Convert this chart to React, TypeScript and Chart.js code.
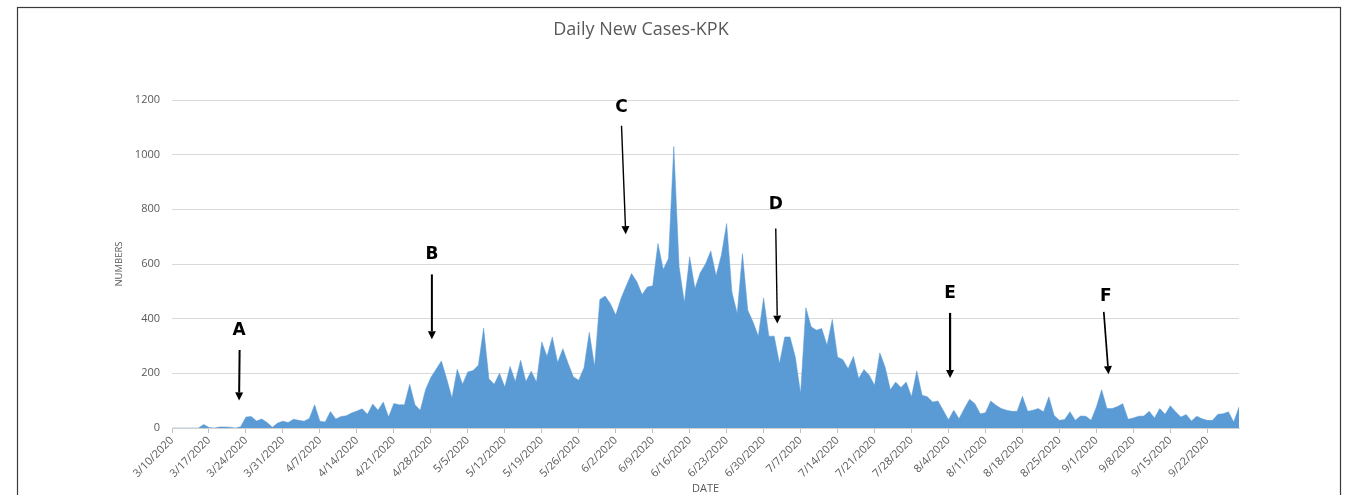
import React, { useEffect, useRef } from 'react';
import { Chart, registerables } from 'chart.js';

Chart.register(...registerables);

// ---- Data (daily new cases, KPK) ----
const startDate = { year: 2020, month: 3, day: 10 };
const march = [0, 0, 0, 0, 0, 0, 13, 2, 0, 4, 4, 3, 0, 5, 40, 42, 26, 33, 20, 3, 18, 25];
const april = [20, 32, 28, 25, 35, 85, 25, 22, 60, 33, 42, 45, 55, 62, 70, 50, 88, 65, 95, 40, 90, 85, 85, 160, 85, 65, 140, 185, 215, 245];
const may = [180, 110, 215, 160, 205, 210, 230, 365, 180, 160, 200, 150, 225, 170, 248, 170, 208, 168, 315, 262, 333, 240, 290, 236, 187, 175, 220, 350, 225, 470, 483];
const june = [455, 413, 474, 520, 565, 535, 488, 516, 520, 675, 580, 620, 1030, 590, 459, 626, 510, 568, 600, 648, 557, 632, 748, 498, 419, 638, 431, 388, 336, 476];
const july = [336, 336, 236, 333, 333, 260, 126, 440, 370, 358, 364, 303, 397, 260, 250, 217, 262, 181, 214, 193, 156, 275, 223, 140, 168, 148, 168, 114, 209, 120, 114];
const august = [95, 99, 65, 30, 65, 34, 71, 105, 89, 52, 56, 99, 83, 71, 65, 61, 61, 116, 61, 65, 71, 59, 114, 46, 28, 31, 59, 28, 44, 43, 28];
const september = [77, 140, 71, 71, 79, 89, 32, 37, 43, 44, 61, 37, 71, 50, 81, 59, 40, 49, 26, 43, 34, 28, 28, 50, 52, 59, 22, 77];

const dailyCases = [...march, ...april, ...may, ...june, ...july, ...august, ...september];

const yTicks = [0, 200, 400, 600, 800, 1000, 1200];
const labelEvery = 7;

// Annotations (in data units: day index and case values)
const annotLetters = ['A', 'B', 'C', 'D', 'E', 'F'];
const annotLabelDay = [12.7, 49.2, 85.1, 114.3, 147.3, 176.8];
const annotLabelValue = [358, 635, 1173, 818, 492, 482];
const annotArrowTopDay = [12.8, 49.2, 85.1, 114.3, 147.3, 176.4];
const annotArrowTopValue = [285, 562, 1106, 730, 421, 425];
const annotArrowTipDay = [12.7, 49.2, 85.9, 114.6, 147.3, 177.3];
const annotArrowTipValue = [101, 325, 709, 382, 183, 197];
const arrowWidths = [2, 2, 1.4, 1.4, 2.2, 1.7];

function buildDateLabels(count: number): string[] {
  const out: string[] = [];
  const d = new Date(startDate.year, startDate.month - 1, startDate.day);
  for (let i = 0; i < count; i++) {
    out.push(`${d.getMonth() + 1}/${d.getDate()}/${d.getFullYear()}`);
    d.setDate(d.getDate() + 1);
  }
  return out;
}

const categories = buildDateLabels(dailyCases.length);

const FONT = "'Open Sans', 'Liberation Sans', sans-serif";
const GRAY = '#595959';

const decorPlugin = {
  id: 'decor',
  beforeDraw(chart: any) {
    const { ctx, width, height } = chart;
    ctx.save();
    ctx.fillStyle = '#ffffff';
    ctx.fillRect(0, 0, width, height);
    ctx.strokeStyle = '#3a3a3a';
    ctx.lineWidth = 1.2;
    ctx.strokeRect(17.5, 7.5, 1323, 600);
    ctx.restore();
  },
  afterDraw(chart: any) {
    const { ctx } = chart;
    const xs = chart.scales.x;
    const ys = chart.scales.y;
    ctx.save();
    // title
    ctx.fillStyle = GRAY;
    ctx.font = `18px ${FONT}`;
    ctx.textAlign = 'center';
    ctx.textBaseline = 'middle';
    ctx.fillText('Daily New Cases-KPK', 641, 30);

    // annotations
    for (let i = 0; i < annotLetters.length; i++) {
      const lx = xs.getPixelForValue(annotLabelDay[i]);
      const ly = ys.getPixelForValue(annotLabelValue[i]);
      ctx.fillStyle = '#000';
      ctx.font = `bold 17px 'DejaVu Sans', 'Liberation Sans', Arial, sans-serif`;
      ctx.textAlign = 'center';
      ctx.textBaseline = 'middle';
      ctx.fillText(annotLetters[i], lx, ly);

      const x1 = xs.getPixelForValue(annotArrowTopDay[i]);
      const y1 = ys.getPixelForValue(annotArrowTopValue[i]);
      const x2 = xs.getPixelForValue(annotArrowTipDay[i]);
      const y2 = ys.getPixelForValue(annotArrowTipValue[i]);
      const ang = Math.atan2(y2 - y1, x2 - x1);
      const headLen = 8;
      const headHalf = 4;
      const bx = x2 - headLen * Math.cos(ang);
      const by = y2 - headLen * Math.sin(ang);
      ctx.strokeStyle = '#000';
      ctx.lineWidth = arrowWidths[i];
      ctx.beginPath();
      ctx.moveTo(x1, y1);
      ctx.lineTo(bx, by);
      ctx.stroke();
      ctx.beginPath();
      ctx.moveTo(x2, y2);
      ctx.lineTo(bx + headHalf * Math.sin(ang), by - headHalf * Math.cos(ang));
      ctx.lineTo(bx - headHalf * Math.sin(ang), by + headHalf * Math.cos(ang));
      ctx.closePath();
      ctx.fillStyle = '#000';
      ctx.fill();
    }
    ctx.restore();
  },
};

export default function App() {
  const canvasRef = useRef<HTMLCanvasElement | null>(null);

  useEffect(() => {
    document.body.style.margin = '0';
    const canvas = canvasRef.current;
    if (!canvas) return;
    const chart = new Chart(canvas, {
      type: 'line',
      data: {
        labels: categories,
        datasets: [
          {
            label: 'Daily New Cases',
            data: dailyCases,
            fill: 'origin',
            backgroundColor: '#5b9bd5',
            borderColor: '#5b9bd5',
            borderWidth: 0.5,
            pointRadius: 0,
            tension: 0,
          },
        ],
      },
      options: {
        responsive: false,
        animation: false,
        layout: { padding: { top: 100, left: 108, right: 113, bottom: 0 } },
        plugins: {
          legend: { display: false },
          tooltip: { enabled: false },
          title: { display: false },
        },
        scales: {
          x: {
            type: 'category',
            offset: false,
            grid: {
              drawOnChartArea: false,
              drawTicks: true,
              tickLength: 5,
              tickColor: (ctx: any) => (ctx.index % labelEvery === 0 ? '#bfbfbf' : 'rgba(0,0,0,0)'),
            },
            border: { display: true, color: '#d0d0d0' },
            ticks: {
              autoSkip: false,
              maxRotation: 45,
              minRotation: 45,
              padding: 1,
              color: GRAY,
              font: { family: FONT, size: 11 },
              callback: function (this: any, v: any, i: number) {
                return i % labelEvery === 0 ? this.getLabelForValue(v) : '';
              },
            },
            title: {
              display: true,
              text: 'DATE',
              color: GRAY,
              font: { family: FONT, size: 11 },
              padding: { top: 0, bottom: 0 },
            },
            afterFit: (s: any) => {
              s.height = 67;
            },
          },
          y: {
            min: 0,
            max: 1200,
            afterBuildTicks: (s: any) => {
              s.ticks = yTicks.map((v) => ({ value: v }));
            },
            ticks: {
              padding: 12,
              color: GRAY,
              font: { family: FONT, size: 11 },
              callback: (v: any) => String(v),
            },
            grid: { color: '#d9d9d9', drawTicks: false, lineWidth: 1 },
            border: { display: false },
            title: {
              display: true,
              text: 'NUMBERS',
              color: GRAY,
              font: { family: FONT, size: 9.5 },
              padding: { top: 6, bottom: 0 },
            },
            afterFit: (s: any) => {
              s.width = 64;
            },
          },
        },
      },
      plugins: [decorPlugin],
    });
    return () => chart.destroy();
  }, []);

  return (
    <div style={{ width: 1352, height: 495 }}>
      <canvas ref={canvasRef} width={1352} height={495} style={{ display: 'block' }} />
    </div>
  );
}
